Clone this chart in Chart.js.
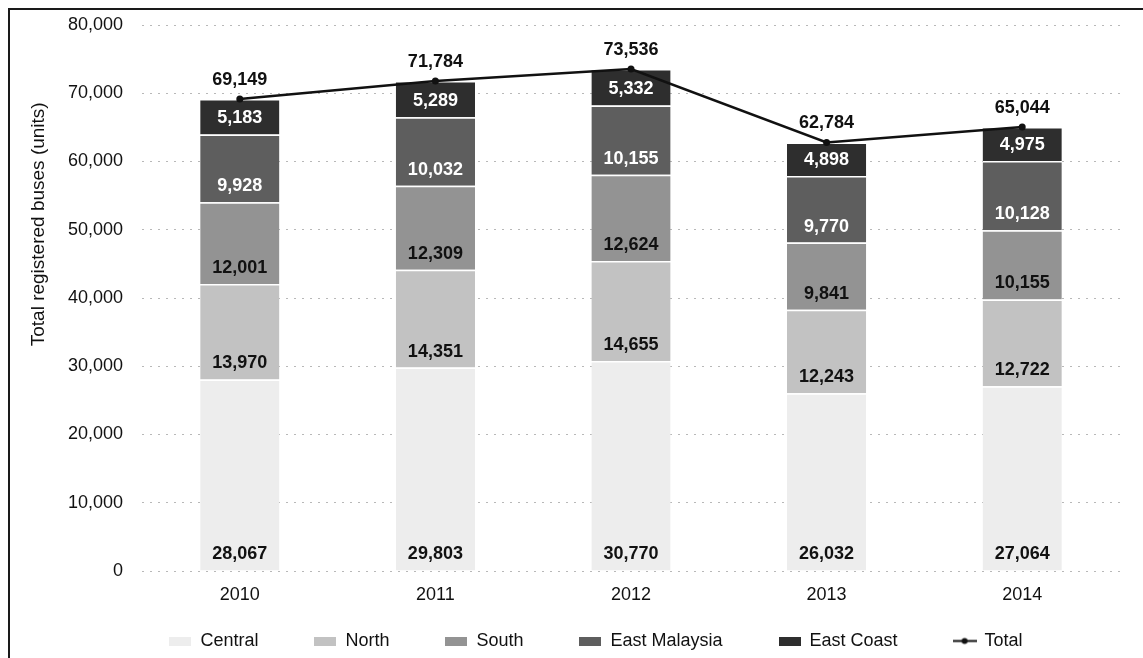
<!DOCTYPE html>
<html>
<head>
<meta charset="utf-8">
<title>Total registered buses</title>
<script src="https://cdn.jsdelivr.net/npm/chart.js@4.4.1/dist/chart.umd.min.js"></script>
<style>
  html, body { margin: 0; padding: 0; background: #fff; }
  #wrap { position: relative; width: 1143px; height: 658px; overflow: hidden; }
  #frame { position: absolute; left: 8px; top: 8px; right: -4px; bottom: -4px;
           border-left: 2px solid #1a1a1a; border-top: 2px solid #1a1a1a; pointer-events: none; }
</style>
</head>
<body>
<div id="wrap">
  <canvas id="busChart" width="1143" height="658"></canvas>
  <div id="frame"></div>
</div>
<script>
// registered buses by region, 2010-2014
const years = ['2010', '2011', '2012', '2013', '2014'];
const central = [28067, 29803, 30770, 26032, 27064];
const north = [13970, 14351, 14655, 12243, 12722];
const south = [12001, 12309, 12624, 9841, 10155];
const eastMalaysia = [9928, 10032, 10155, 9770, 10128];
const eastCoast = [5183, 5289, 5332, 4898, 4975];
const totals = [69149, 71784, 73536, 62784, 65044];
const yTicks = [0, 10000, 20000, 30000, 40000, 50000, 60000, 70000, 80000];
const yTitle = 'Total registered buses (units)';

const FONT = '"Liberation Sans", Arial, sans-serif';
const LEGEND_GAP = 56;

Chart.defaults.font.family = FONT;
Chart.defaults.color = '#111';

const fmt = v => v.toLocaleString('en-US');

// small canvases used as legend markers
function swatch(color) {
    const c = document.createElement('canvas');
    c.width = 22; c.height = 9;
    const g = c.getContext('2d');
    g.fillStyle = color;
    g.fillRect(0, 0, 22, 9);
    return c;
}
function lineMarker() {
    const c = document.createElement('canvas');
    c.width = 24; c.height = 9;
    const g = c.getContext('2d');
    g.strokeStyle = '#111';
    g.lineWidth = 2;
    g.beginPath(); g.moveTo(0, 4.5); g.lineTo(24, 4.5); g.stroke();
    g.fillStyle = '#111';
    g.beginPath(); g.arc(12, 4.5, 3, 0, Math.PI * 2); g.fill();
    return c;
}

function barSet(label, data, color, labelColor) {
    return {
        type: 'bar',
        label: label,
        data: data,
        backgroundColor: color,
        borderColor: '#ffffff',
        borderWidth: { top: 1.5 },
        borderSkipped: false,
        labelColor: labelColor,
        order: 1
    };
}

// value labels: bars at the inside base, totals above the points
const valueLabels = {
    id: 'valueLabels',
    afterDatasetsDraw(chart) {
        const ctx = chart.ctx;
        ctx.save();
        ctx.font = 'bold 18px ' + FONT;
        ctx.textAlign = 'center';
        ctx.textBaseline = 'middle';
        chart.data.datasets.forEach((ds, i) => {
            const meta = chart.getDatasetMeta(i);
            if (meta.hidden) return;
            meta.data.forEach((el, j) => {
                const y = ds.type === 'line' ? el.y - 19 : el.base - 16;
                ctx.fillStyle = ds.labelColor;
                ctx.fillText(fmt(ds.data[j]), el.x, y);
            });
        });
        ctx.restore();
    }
};

// axis title sits a bit above the middle of the value axis
const axisTitle = {
    id: 'axisTitle',
    afterDraw(chart) {
        const ctx = chart.ctx;
        const area = chart.chartArea;
        ctx.save();
        ctx.translate(39, area.top + (area.bottom - area.top) * 0.365);
        ctx.rotate(-Math.PI / 2);
        ctx.font = '19px ' + FONT;
        ctx.fillStyle = '#111';
        ctx.textAlign = 'center';
        ctx.textBaseline = 'middle';
        ctx.fillText(yTitle, 0, 0);
        ctx.restore();
    }
};

// keep the legend row short and place it under the axis labels
const legendPlacement = {
    id: 'legendPlacement',
    beforeInit(chart) {
        const legend = chart.legend;
        const fit = legend.fit;
        legend.fit = function () {
            fit.call(this);
            this.height = 40;
        };
    },
    afterLayout(chart) {
        const legend = chart.legend;
        legend.top = 641 - LEGEND_GAP - 9;
        legend.left += 24;
        legend.right += 24;
    }
};

const datasets = [
    barSet('Central', central, '#ededed', '#111'),
    barSet('North', north, '#c2c2c2', '#111'),
    barSet('South', south, '#939393', '#111'),
    barSet('East Malaysia', eastMalaysia, '#5e5e5e', '#fff'),
    barSet('East Coast', eastCoast, '#2e2e2e', '#fff'),
    {
        type: 'line',
        label: 'Total',
        data: totals,
        borderColor: '#111',
        backgroundColor: '#111',
        borderWidth: 2.5,
        pointRadius: 3.5,
        pointBackgroundColor: '#111',
        pointBorderWidth: 0,
        tension: 0,
        labelColor: '#111',
        order: 0
    }
];

const markers = datasets.map(ds => ds.type === 'line' ? lineMarker() : swatch(ds.backgroundColor));

new Chart(document.getElementById('busChart'), {
    data: { labels: years, datasets: datasets },
    options: {
        responsive: false,
        animation: false,
        events: [],
        layout: { padding: { top: 25, left: 24, right: 23, bottom: 0 } },
        datasets: {
            bar: { categoryPercentage: 1, barPercentage: 0.405 }
        },
        scales: {
            x: {
                stacked: true,
                grid: { display: false, drawTicks: false },
                border: { display: false },
                ticks: { padding: 13, font: { size: 18 }, color: '#111' },
                afterFit(scale) { scale.height = 47; }
            },
            y: {
                stacked: true,
                min: 0,
                max: 80000,
                afterBuildTicks(scale) { scale.ticks = yTicks.map(v => ({ value: v })); },
                grid: { color: '#b8b8b8', lineWidth: 1, drawTicks: false },
                border: { display: false, dash: [2, 6] },
                ticks: {
                    padding: 19,
                    font: { size: 18 },
                    color: '#111',
                    callback: v => fmt(v)
                },
                afterFit(scale) {
                    scale.width = 118;
                    scale.paddingTop = 0;
                    scale.paddingBottom = 0;
                }
            }
        },
        plugins: {
            tooltip: { enabled: false },
            legend: {
                position: 'bottom',
                labels: {
                    usePointStyle: true,
                    pointStyleWidth: 22,
                    boxHeight: 9,
                    padding: LEGEND_GAP,
                    font: { size: 18 },
                    color: '#111',
                    sort: (a, b) => a.datasetIndex - b.datasetIndex,
                    generateLabels(chart) {
                        return chart.data.datasets.map((ds, i) => ({
                            text: ds.label,
                            datasetIndex: i,
                            pointStyle: markers[i],
                            fillStyle: ds.backgroundColor,
                            strokeStyle: 'transparent',
                            lineWidth: 0,
                            hidden: false,
                            fontColor: '#111'
                        }));
                    }
                }
            }
        }
    },
    plugins: [valueLabels, axisTitle, legendPlacement]
});
</script>
</body>
</html>
